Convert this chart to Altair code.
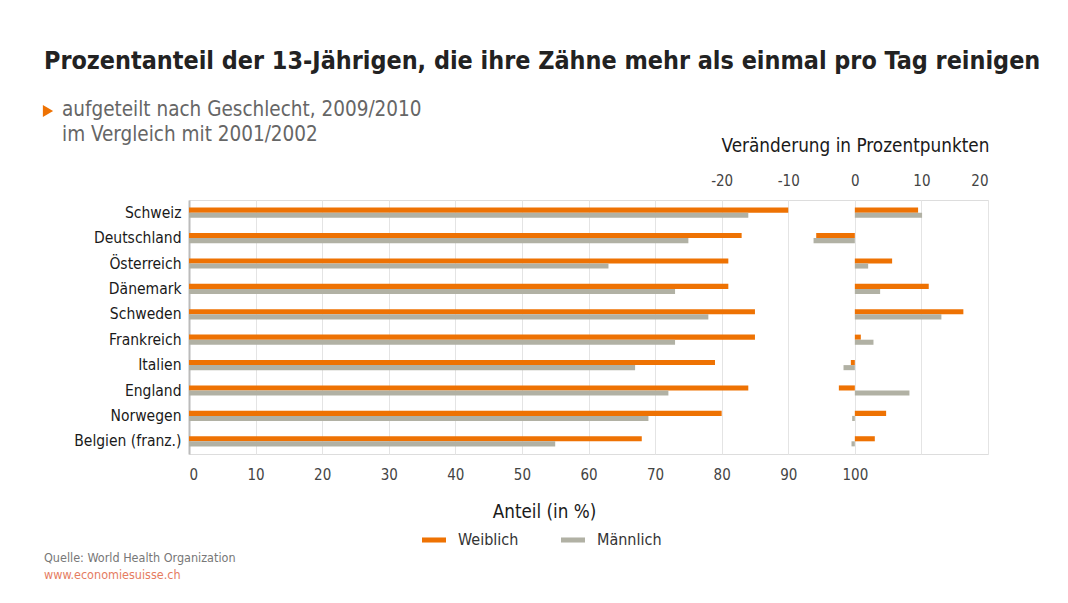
import altair as alt
import pandas as pd

countries = ["Schweiz", "Deutschland", "Österreich", "Dänemark", "Schweden",
             "Frankreich", "Italien", "England", "Norwegen", "Belgien (franz.)"]
weiblich = [90, 83, 81, 81, 85, 85, 79, 84, 80, 68]
maennlich = [84, 75, 63, 73, 78, 73, 67, 72, 69, 55]
change_w = [9.5, -5.8, 5.6, 11.1, 16.3, 0.9, -0.6, -2.4, 4.7, 3.0]
change_m = [10.1, -6.2, 2.0, 3.8, 13.0, 2.8, -1.7, 8.2, -0.4, -0.5]
genders = ["Weiblich", "Männlich"]
colors = ["#EE7203", "#B1B1A4"]

rows = []
for i, c in enumerate(countries):
    rows.append({"Land": c, "Geschlecht": "Weiblich", "Anteil": weiblich[i], "Veraenderung": change_w[i]})
    rows.append({"Land": c, "Geschlecht": "Männlich", "Anteil": maennlich[i], "Veraenderung": change_m[i]})
df = pd.DataFrame(rows)

FONT = "'DejaVu Sans Condensed', 'Liberation Sans Narrow', Roboto, sans-serif"

y_enc = alt.Y("Land:N", sort=countries,
              scale=alt.Scale(paddingInner=0.6, paddingOuter=0.3),
              axis=alt.Axis(title=None, labelFontSize=15.5, labelColor="#1a1a1a",
                            labelPadding=8, ticks=False, domainColor="#BBBBBB",
                            domainWidth=2, labelFont=FONT))
yoff = alt.YOffset("Geschlecht:N", sort=genders,
                   scale=alt.Scale(paddingInner=0, paddingOuter=0))
color = alt.Color("Geschlecht:N", sort=genders,
                  scale=alt.Scale(domain=genders, range=colors),
                  legend=alt.Legend(title=None, orient="none", direction="horizontal",
                                    legendX=233, legendY=328, padding=0,
                                    symbolType="M-1,-0.21H1V0.21H-1Z", symbolSize=576,
                                    symbolStrokeWidth=0, labelFontSize=16,
                                    labelColor="#333", labelOffset=12,
                                    columnPadding=42, labelFont=FONT))

left = alt.Chart(df).mark_bar().encode(
    x=alt.X("Anteil:Q", scale=alt.Scale(domain=[0, 120], nice=False),
            axis=alt.Axis(values=list(range(0, 130, 10)),
                          labelExpr="datum.value <= 100 ? datum.label : ''",
                          title="Anteil (in %)", titleX=355, titleY=57,
                          titleBaseline="middle", titleAlign="center",
                          titleFontSize=18.7, titleFontWeight=500, titleColor="#1a1a1a",
                          labelFontSize=15, labelColor="#444", labelPadding=13,
                          ticks=False, domain=False, gridColor="#E4E4E4",
                          labelFont=FONT, titleFont=FONT)),
    y=y_enc, yOffset=yoff, color=color,
)

right = alt.Chart(df).mark_bar().encode(
    x=alt.X("Veraenderung:Q", scale=alt.Scale(domain=[-100, 20], nice=False),
            axis=alt.Axis(orient="top", values=[-20, -10, 0, 10, 20],
                          labelExpr="'' + datum.value", grid=False,
                          title="Veränderung in Prozentpunkten", titleX=666, titleY=-55,
                          titleBaseline="middle", titleAlign="center",
                          titleFontSize=18.8, titleFontWeight=500, titleColor="#1a1a1a",
                          labelFontSize=15, labelColor="#444", labelPadding=12,
                          ticks=False, domain=False, labelFont=FONT, titleFont=FONT)),
    y=alt.Y("Land:N", sort=countries), yOffset=yoff, color=color,
)

def txt(t, x, y, size, col, weight="normal"):
    return alt.Chart(pd.DataFrame({"t": [t]})).mark_text(
        align="left", baseline="middle", fontSize=size, color=col,
        fontWeight=weight, font=FONT
    ).encode(text="t:N", x=alt.value(x), y=alt.value(y))

title = txt("Prozentanteil der 13-Jährigen, die ihre Zähne mehr als einmal pro Tag reinigen",
            -145, -138, 24.9, "#222", "bold")
sub1 = txt("aufgeteilt nach Geschlecht, 2009/2010", -127, -90, 20.5, "#666")
sub2 = txt("im Vergleich mit 2001/2002", -127, -65, 20.5, "#666")
src1 = txt("Quelle: World Health Organization", -145, 358, 12.5, "#777")
src2 = txt("www.economiesuisse.ch", -145, 375, 12.5, "#E57C5F")
tri = alt.Chart(pd.DataFrame({"t": [1]})).mark_point(
    shape="triangle-right", filled=True, color="#EE7203", size=140, opacity=1
).encode(x=alt.value(-141), y=alt.value(-89))

chart = alt.layer(left, right, title, sub1, sub2, src1, src2, tri).resolve_scale(
    x="independent"
).properties(
    width=799, height=254,
    autosize=alt.AutoSizeParams(type="none"),
    padding={"left": 181, "top": 192, "right": 60, "bottom": 130},
).configure_view(strokeWidth=0, stroke="transparent").configure(font=FONT)

chart.save("out.html", embed_options={"renderer": "svg", "actions": False})
